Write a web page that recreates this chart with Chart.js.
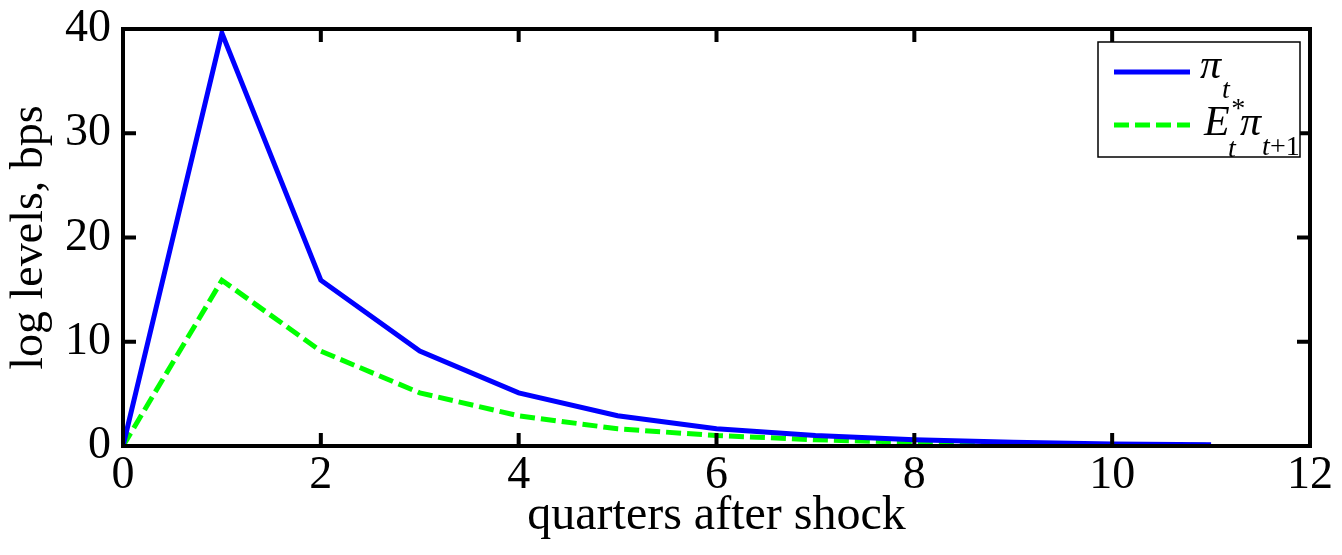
<!DOCTYPE html>
<html>
<head>
<meta charset="utf-8">
<script src="https://cdn.jsdelivr.net/npm/chart.js@4/dist/chart.umd.min.js"></script>
<style>
  body { margin: 0; background: #fff; }
  #wrap { width: 1342px; height: 555px; position: relative; }
</style>
</head>
<body>
<div id="wrap"><canvas id="irf"></canvas></div>
<script>
// quarters after the shock
const quarters = [0, 1, 2, 3, 4, 5, 6, 7, 8, 9, 10, 11];
// inflation response, bps
const piValues = [0, 39.6, 15.9, 9.1, 5.1, 2.9, 1.65, 1.0, 0.6, 0.35, 0.2, 0.12];
// expected next-period inflation
const expPiValues = [0, 15.9, 9.1, 5.1, 2.9, 1.65, 1.0, 0.6, 0.35, 0.2, 0.12, 0.07];
const xTicks = [0, 2, 4, 6, 8, 10, 12];
const yTicks = [0, 10, 20, 30, 40];

const serif = "'Liberation Serif', 'Times New Roman', serif";

const toPoints = (vals) => quarters.map((q, i) => ({ x: q, y: vals[i] }));

// box round the plot with inward ticks on all four sides
const boxPlugin = {
  id: "box",
  afterDraw(chart) {
    const ctx = chart.ctx;
    const a = chart.chartArea;
    const xs = chart.scales.x;
    const ys = chart.scales.y;
    const tl = 11;
    ctx.save();
    ctx.strokeStyle = "#000";
    ctx.lineWidth = 4;
    ctx.lineCap = "square";
    ctx.strokeRect(a.left, a.top, a.right - a.left, a.bottom - a.top);
    ctx.beginPath();
    xTicks.forEach((v) => {
      const px = xs.getPixelForValue(v);
      ctx.moveTo(px, a.bottom);
      ctx.lineTo(px, a.bottom - tl);
      ctx.moveTo(px, a.top);
      ctx.lineTo(px, a.top + tl);
    });
    yTicks.forEach((v) => {
      const py = ys.getPixelForValue(v);
      ctx.moveTo(a.left, py);
      ctx.lineTo(a.left + tl, py);
      ctx.moveTo(a.right, py);
      ctx.lineTo(a.right - tl, py);
    });
    ctx.stroke();
    ctx.restore();
  },
};

// legend with sub/superscripts, drawn by hand
const legendPlugin = {
  id: "mathLegend",
  afterDraw(chart) {
    const ctx = chart.ctx;
    const a = chart.chartArea;
    const ds = chart.data.datasets;
    const w = 202, h = 115;
    const left = a.right - 10 - w;
    const top = a.top + 13;
    ctx.save();
    ctx.fillStyle = "#fff";
    ctx.fillRect(left, top, w, h);
    ctx.strokeStyle = "#000";
    ctx.lineWidth = 1.5;
    ctx.strokeRect(left, top, w, h);

    const rows = [top + 30, top + 83];
    rows.forEach((y, i) => {
      ctx.beginPath();
      ctx.strokeStyle = ds[i].borderColor;
      ctx.lineWidth = ds[i].borderWidth;
      ctx.setLineDash(ds[i].borderDash || []);
      ctx.moveTo(left + 16, y);
      ctx.lineTo(left + 92, y);
      ctx.stroke();
    });
    ctx.setLineDash([]);
    ctx.fillStyle = "#000";
    ctx.textBaseline = "alphabetic";
    ctx.textAlign = "left";
    const big = "italic 42px " + serif;
    const small = "italic 28px " + serif;
    const tx = left + 102;

    // pi_t
    ctx.font = big;
    ctx.fillText("\u03c0", tx, rows[0] + 6);
    ctx.font = small;
    ctx.fillText("t", tx + 22, rows[0] + 26);

    // E_t^* pi_{t+1}
    ctx.font = big;
    ctx.fillText("E", tx + 4, rows[1] + 10);
    ctx.font = small;
    ctx.fillText("*", tx + 30, rows[1] - 8);
    ctx.fillText("t", tx + 28, rows[1] + 32);
    ctx.font = big;
    ctx.fillText("\u03c0", tx + 40, rows[1] + 10);
    ctx.font = small;
    ctx.fillText("t", tx + 62, rows[1] + 30);
    ctx.font = "28px " + serif;
    ctx.fillText("+1", tx + 70, rows[1] + 30);
    ctx.restore();
  },
};

new Chart(document.getElementById("irf"), {
  type: "line",
  data: {
    datasets: [
      {
        label: "\u03c0_t",
        data: toPoints(piValues),
        borderColor: "#0000ff",
        borderWidth: 5,
        pointRadius: 0,
        tension: 0,
        fill: false,
      },
      {
        label: "E_t^* \u03c0_{t+1}",
        data: toPoints(expPiValues),
        borderColor: "#00ff00",
        borderWidth: 5,
        borderDash: [15, 6],
        pointRadius: 0,
        tension: 0,
        fill: false,
      },
    ],
  },
  options: {
    responsive: true,
    maintainAspectRatio: false,
    animation: false,
    layout: { padding: { top: 29, right: 32, left: 0, bottom: 0 } },
    plugins: {
      legend: { display: false },
      tooltip: { enabled: false },
    },
    scales: {
      x: {
        type: "linear",
        min: 0,
        max: 12,
        afterBuildTicks: (s) => { s.ticks = xTicks.map((v) => ({ value: v })); },
        afterFit: (s) => { s.height = 109; },
        grid: { display: false, drawTicks: false },
        border: { display: false },
        ticks: { color: "#000", font: { family: serif, size: 46 }, padding: 2, maxRotation: 0 },
        title: {
          display: true,
          text: "quarters after shock",
          color: "#000",
          font: { family: serif, size: 48 },
          padding: { top: 0, bottom: 10 },
        },
      },
      y: {
        type: "linear",
        min: 0,
        max: 40,
        afterBuildTicks: (s) => { s.ticks = yTicks.map((v) => ({ value: v })); },
        afterFit: (s) => { s.width = 123; s.paddingTop = 0; s.paddingBottom = 0; },
        grid: { display: false, drawTicks: false },
        border: { display: false },
        ticks: { color: "#000", font: { family: serif, size: 46, lineHeight: 0.8 }, padding: 12 },
        title: {
          display: true,
          text: "log levels, bps",
          color: "#000",
          font: { family: serif, size: 46 },
          padding: { top: 2, bottom: 0 },
        },
      },
    },
  },
  plugins: [boxPlugin, legendPlugin],
});
</script>
</body>
</html>
